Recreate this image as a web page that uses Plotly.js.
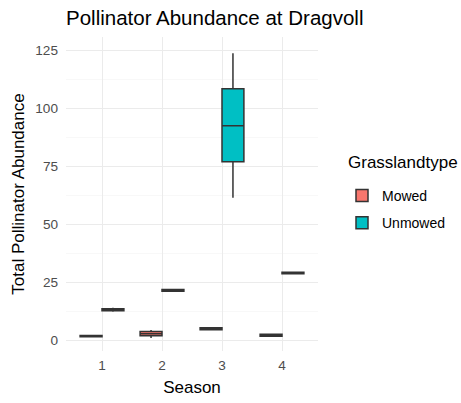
<!DOCTYPE html>
<html>
<head>
<meta charset="utf-8">
<script src="https://cdn.plot.ly/plotly-3.0.1.min.js"></script>
<style>html,body{margin:0;padding:0;background:#fff;}#chart{width:461px;height:403px;}</style>
</head>
<body>
<div id="chart"></div>
<script>
const seasons = ['1', '2', '3', '4'];
const groups = ['Mowed', 'Unmowed'];
const colors = ['#F8766D', '#00BFC4'];
const legendTitle = 'Grasslandtype';

const mowedLower  = [1.3, 1.0, 4.4, 1.6];
const mowedQ1     = [1.5, 2.0, 4.6, 1.8];
const mowedMedian = [1.8, 2.8, 5.0, 2.2];
const mowedQ3     = [2.1, 3.8, 5.4, 2.6];
const mowedUpper  = [2.3, 4.5, 5.6, 2.8];

const unmowedLower  = [12.3, 21.0, 61.5, 28.5];
const unmowedQ1     = [12.8, 21.2, 77.0, 28.7];
const unmowedMedian = [13.2, 21.5, 92.5, 29.0];
const unmowedQ3     = [13.6, 21.9, 108.5, 29.4];
const unmowedUpper  = [14.0, 22.2, 123.8, 29.6];

const yTicks = [0, 25, 50, 75, 100, 125];

function boxTrace(name, color, lo, q1, med, q3, up) {
  return {
    type: 'box', name: name, x: seasons, legendgroup: name,
    lowerfence: lo, q1: q1, median: med, q3: q3, upperfence: up,
    fillcolor: color, line: {color: '#333333', width: 1.5},
    whiskerwidth: 0, boxpoints: false, hoverinfo: 'skip'
  };
}

const data = [
  boxTrace(groups[0], colors[0], mowedLower, mowedQ1, mowedMedian, mowedQ3, mowedUpper),
  boxTrace(groups[1], colors[1], unmowedLower, unmowedQ1, unmowedMedian, unmowedQ3, unmowedUpper)
];

const font = 'Liberation Sans, Arial, sans-serif';
const layout = {
  width: 461, height: 403,
  margin: {l: 66, r: 143, t: 37, b: 52, autoexpand: false},
  paper_bgcolor: '#fff', plot_bgcolor: '#fff',
  boxmode: 'group', boxgap: 0.27, boxgroupgap: 0,
  font: {family: font, color: '#000'},
  title: {text: 'Pollinator Abundance at Dragvoll', font: {size: 20.5, color: '#000'},
          x: 66/461, xanchor: 'left', y: 1 - 18/403, yanchor: 'middle'},
  xaxis: {
    type: 'category', categoryorder: 'array', categoryarray: seasons,
    range: [-0.6, 3.6],
    showgrid: true, gridcolor: '#EBEBEB', gridwidth: 1,
    zeroline: false, showline: false, ticks: '',
    ticklabelstandoff: 4,
    tickfont: {size: 13.6, color: '#4D4D4D'},
    title: {text: 'Season', font: {size: 17, color: '#000'}, standoff: 9}
  },
  yaxis: {
    range: [-4.6, 130.8],
    tickvals: yTicks, ticktext: yTicks.map(String),
    showgrid: true, gridcolor: '#EBEBEB', gridwidth: 1,
    minor: {dtick: 12.5, tick0: 12.5, showgrid: true, gridcolor: '#F4F4F4', gridwidth: 0.6, ticks: ''},
    zeroline: false, showline: false, ticks: '',
    ticklabelstandoff: 7,
    tickfont: {size: 13.6, color: '#4D4D4D'},
    title: {text: 'Total Pollinator Abundance', font: {size: 17, color: '#000'}, standoff: 6}
  },
  legend: {
    xref: 'container', yref: 'container',
    x: 342/461, xanchor: 'left', y: 1 - 180/403, yanchor: 'top',
    font: {size: 14, color: '#000'},
    tracegroupgap: 6, itemwidth: 30
  },
  annotations: [{
    text: legendTitle, xref: 'paper', yref: 'paper',
    x: (346 - 66) / 252, xanchor: 'left',
    y: (351 - 162) / 314, yanchor: 'middle',
    showarrow: false, font: {size: 17, color: '#000'}
  }],
  showlegend: true
};

Plotly.newPlot('chart', data, layout, {displayModeBar: false, staticPlot: true});
</script>
</body>
</html>
